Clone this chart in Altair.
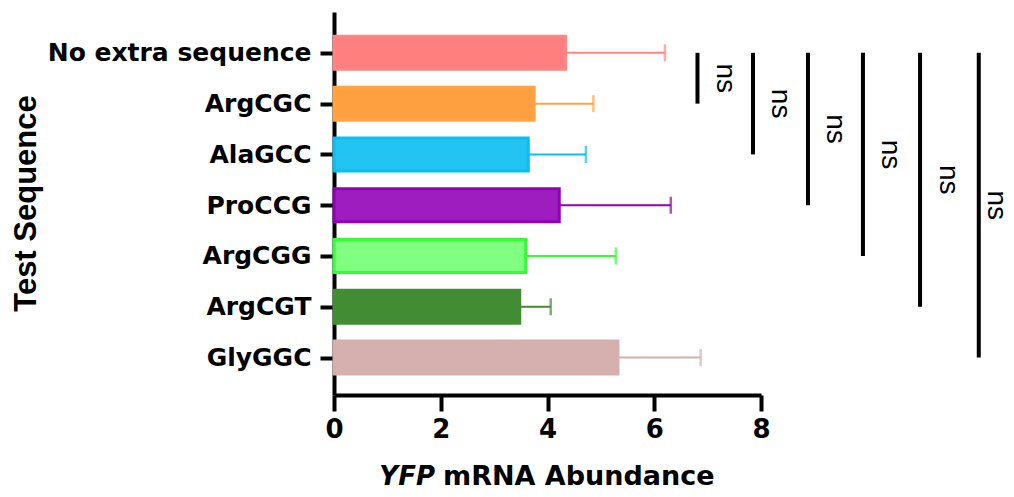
import altair as alt
import pandas as pd

# ---- data ----
categories = ["No extra sequence", "ArgCGC", "AlaGCC", "ProCCG", "ArgCGG", "ArgCGT", "GlyGGC"]
means = [4.34, 3.75, 3.64, 4.22, 3.59, 3.48, 5.32]
upper_err = [6.20, 4.86, 4.72, 6.31, 5.28, 4.06, 6.87]
fill_colors = ["#FF7F7F", "#FFA040", "#22C5F2", "#9E1DBE", "#80FF80", "#428D33", "#D6B0AE"]
stroke_colors = ["#FF8585", "#FFA347", "#0BBDF2", "#9400BA", "#33FF33", "#428D33", "#D6B0AE"]
x_ticks = [0, 2, 4, 6, 8]

# significance brackets: x position (data units), from first bar to bar index `end`
bracket_x = [6.81, 7.85, 8.88, 9.91, 10.98, 12.08]
bracket_end = [1, 2, 3, 4, 5, 6]
bracket_labels = ["ns", "ns", "ns", "ns", "ns", "ns"]

W, H = 427, 383

bars_df = pd.DataFrame({
    "cat": categories,
    "idx": list(range(len(categories))),
    "mean": means,
    "upper": upper_err,
})
br_df = pd.DataFrame({
    "bx": bracket_x,
    "start": [0] * len(bracket_x),
    "end": bracket_end,
    "label": bracket_labels,
})

xscale = alt.Scale(domain=[0, 8], nice=False, zero=True)
yscale = alt.Scale(domain=[-0.706, 6.639], reverse=True, nice=False, zero=False)
fill_scale = alt.Scale(domain=categories, range=fill_colors)
stroke_scale = alt.Scale(domain=categories, range=stroke_colors)

label_expr = "[" + ",".join("'" + c + "'" for c in categories) + "][datum.value]"

x_axis = alt.Axis(
    values=x_ticks, title=None, grid=False,
    domainColor="black", domainWidth=4,
    tickColor="black", tickWidth=4, tickSize=16,
    labelFont="DejaVu Sans", labelFontSize=26, labelFontWeight="bold",
    labelColor="black", labelPadding=5, labelFlush=False, labelOverlap=False,
)
y_axis = alt.Axis(
    values=list(range(len(categories))), labelExpr=label_expr, grid=False,
    domainColor="black", domainWidth=4,
    tickColor="black", tickWidth=4, tickSize=14,
    labelFont="DejaVu Sans", labelFontSize=25, labelFontWeight="bold",
    labelColor="black", labelPadding=9, labelOverlap=False, labelLimit=500,
    title="Test Sequence", titleFont="Liberation Sans", titleFontSize=31,
    titleFontWeight="bold", titleColor="black",
    titleX=-299, titleY=191, titleAngle=270, titleAlign="center",
    titleBaseline="alphabetic",
)

base = alt.Chart(bars_df)

bars = base.mark_bar(orient="horizontal", size=33, strokeWidth=3).encode(
    x=alt.X("mean:Q", scale=xscale, axis=x_axis),
    y=alt.Y("idx:Q", scale=yscale, axis=y_axis),
    fill=alt.Fill("cat:N", scale=fill_scale, legend=None),
    stroke=alt.Stroke("cat:N", scale=stroke_scale, legend=None),
)

err_rule = base.mark_rule(strokeWidth=2).encode(
    x=alt.X("mean:Q", scale=xscale),
    x2="upper:Q",
    y=alt.Y("idx:Q", scale=yscale),
    color=alt.Color("cat:N", scale=stroke_scale, legend=None),
)

err_cap = base.mark_tick(orient="vertical", size=17, thickness=2.5).encode(
    x=alt.X("upper:Q", scale=xscale),
    y=alt.Y("idx:Q", scale=yscale),
    color=alt.Color("cat:N", scale=stroke_scale, legend=None),
)

br = alt.Chart(br_df)
br_lines = br.mark_rule(strokeWidth=4, color="black").encode(
    x=alt.X("bx:Q", scale=xscale),
    y=alt.Y("start:Q", scale=yscale),
    y2="end:Q",
)
# label sits ~27px right of its line; kept inside the drawing area
br_text = br.mark_text(
    font="Liberation Sans", fontSize=28, angle=90, align="center",
    baseline="middle", color="black",
).transform_calculate(
    tx="min(datum.bx + 27.5 / 53.375, 12.40)",
    ty="(datum.start + datum.end) / 2",
).encode(
    x=alt.X("tx:Q", scale=xscale),
    y=alt.Y("ty:Q", scale=yscale),
    text="label:N",
)

title_italic = alt.Chart(pd.DataFrame({"t": ["YFP"]})).mark_text(
    font="DejaVu Sans", fontSize=26, fontWeight="bold", fontStyle="italic",
    align="right", baseline="alphabetic", color="black",
).encode(x=alt.value(101), y=alt.value(473), text="t:N")

title_rest = alt.Chart(pd.DataFrame({"t": ["mRNA Abundance"]})).mark_text(
    font="DejaVu Sans", fontSize=27, fontWeight="bold",
    align="left", baseline="alphabetic", color="black",
).encode(x=alt.value(109), y=alt.value(473), text="t:N")

chart = alt.layer(
    bars, err_rule, err_cap, br_lines, br_text, title_italic, title_rest
).properties(
    width=W, height=H,
    autosize=alt.AutoSizeParams(type="none"),
    padding={"left": 326, "top": 4, "right": 245, "bottom": 94},
).configure(background="white").configure_view(stroke=None)

chart.save("out.html", embed_options={"renderer": "svg", "actions": False})
